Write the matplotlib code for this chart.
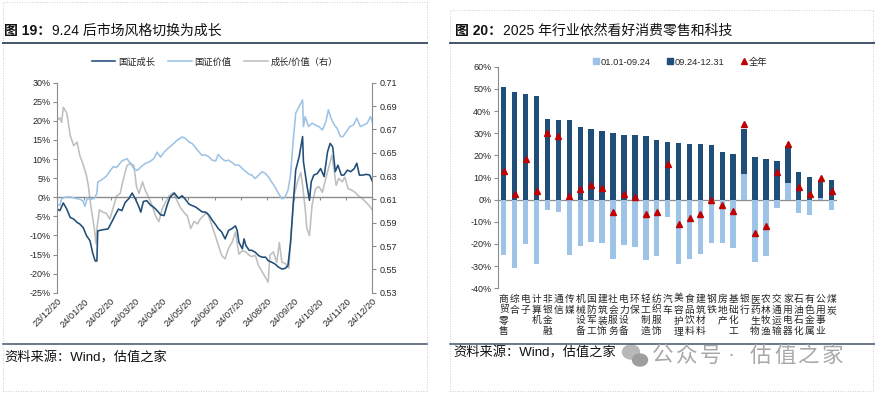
import matplotlib
matplotlib.use("Agg")
import matplotlib.pyplot as plt
import matplotlib.dates as mdates
from matplotlib.lines import Line2D
from matplotlib.patches import Ellipse, Rectangle
from matplotlib.ticker import FuncFormatter, MultipleLocator
import numpy as np
import pandas as pd

plt.rcParams["font.family"] = ["Liberation Sans", "Noto Sans CJK SC"]

# ---- 图19 data ----
growth_dates = [
    "2023-12-20", "2023-12-23", "2023-12-27", "2023-12-31", "2024-01-04", "2024-01-08",
    "2024-01-12", "2024-01-15", "2024-01-19", "2024-01-23", "2024-01-27", "2024-01-30",
    "2024-02-02", "2024-02-04", "2024-02-05", "2024-02-11", "2024-02-17", "2024-02-21",
    "2024-02-25", "2024-02-29", "2024-03-04", "2024-03-08", "2024-03-12", "2024-03-16",
    "2024-03-20", "2024-03-24", "2024-03-26", "2024-03-29", "2024-04-02", "2024-04-06",
    "2024-04-10", "2024-04-14", "2024-04-18", "2024-04-22", "2024-04-26", "2024-04-29",
    "2024-05-04", "2024-05-09", "2024-05-13", "2024-05-17", "2024-05-21", "2024-05-25",
    "2024-05-29", "2024-06-01", "2024-06-05", "2024-06-09", "2024-06-13", "2024-06-17",
    "2024-06-21", "2024-06-24", "2024-06-28", "2024-07-02", "2024-07-06", "2024-07-10",
    "2024-07-14", "2024-07-16", "2024-07-18", "2024-07-22", "2024-07-24", "2024-07-26",
    "2024-07-30", "2024-08-02", "2024-08-06", "2024-08-10", "2024-08-14", "2024-08-18",
    "2024-08-21", "2024-08-25", "2024-08-29", "2024-09-02", "2024-09-06", "2024-09-10",
    "2024-09-13", "2024-09-16", "2024-09-19", "2024-09-22", "2024-09-26", "2024-09-30",
    "2024-10-01", "2024-10-05", "2024-10-08", "2024-10-10", "2024-10-13", "2024-10-17",
    "2024-10-21", "2024-10-25", "2024-10-29", "2024-11-01", "2024-11-04", "2024-11-07",
    "2024-11-10", "2024-11-14", "2024-11-17", "2024-11-21", "2024-11-25", "2024-11-29",
    "2024-12-02", "2024-12-05", "2024-12-09", "2024-12-13", "2024-12-17", "2024-12-20",
]
growth_vals = [
    -3.1, -3.5, -1.5, -3.1, -5.3, -5.7,
    -6.6, -7.0, -7.9, -10.1, -11.4, -14.5,
    -16.7, -16.7, -8.8, -8.5, -8.3, -6.6,
    -4.8, -3.1, -3.5, -1.3, -0.4, 1.1,
    -0.6, -2.6, -3.9, -1.1, -0.9, -2.0,
    -2.6, -3.5, -4.6, -4.8, -1.8, 0.0,
    1.1, -0.3, 0.4, -0.6, -1.8, -2.2,
    -2.6, -3.1, -3.8, -3.9, -4.6, -6.0,
    -7.2, -8.2, -9.1, -10.9, -8.7, -8.2,
    -7.5, -8.7, -11.8, -13.5, -10.9, -12.6,
    -13.9, -13.9, -14.4, -15.3, -15.7, -15.7,
    -16.6, -17.0, -17.5, -18.3, -18.8, -18.6,
    -17.9, -11.8, -2.1, 7.1, 10.6, 15.9,
    9.3, 3.2, -0.8, 4.0, 5.8, 6.2,
    7.5, 5.4, 11.9, 14.1, 13.2, 6.7,
    8.4, 5.8, 5.8, 7.1, 6.7, 7.5,
    8.9, 5.8, 5.8, 6.0, 5.8, 4.2,
]

value_dates = [
    "2023-12-20", "2023-12-23", "2023-12-25", "2023-12-29", "2024-01-04", "2024-01-10",
    "2024-01-15", "2024-01-19", "2024-01-21", "2024-01-24", "2024-01-27", "2024-02-01",
    "2024-02-04", "2024-02-05", "2024-02-09", "2024-02-15", "2024-02-19", "2024-02-23",
    "2024-02-27", "2024-03-04", "2024-03-10", "2024-03-14", "2024-03-18", "2024-03-22",
    "2024-03-26", "2024-03-31", "2024-04-06", "2024-04-10", "2024-04-14", "2024-04-18",
    "2024-04-22", "2024-04-26", "2024-05-01", "2024-05-07", "2024-05-13", "2024-05-17",
    "2024-05-21", "2024-05-25", "2024-05-31", "2024-06-05", "2024-06-09", "2024-06-13",
    "2024-06-17", "2024-06-21", "2024-06-24", "2024-06-28", "2024-07-02", "2024-07-06",
    "2024-07-10", "2024-07-14", "2024-07-18", "2024-07-22", "2024-07-26", "2024-07-30",
    "2024-08-02", "2024-08-06", "2024-08-10", "2024-08-14", "2024-08-18", "2024-08-21",
    "2024-08-25", "2024-08-29", "2024-09-02", "2024-09-06", "2024-09-09", "2024-09-13",
    "2024-09-16", "2024-09-19", "2024-09-22", "2024-09-26", "2024-09-30", "2024-10-01",
    "2024-10-03", "2024-10-07", "2024-10-11", "2024-10-15", "2024-10-19", "2024-10-23",
    "2024-10-27", "2024-10-30", "2024-11-02", "2024-11-06", "2024-11-09", "2024-11-13",
    "2024-11-16", "2024-11-20", "2024-11-24", "2024-11-28", "2024-12-02", "2024-12-06",
    "2024-12-10", "2024-12-14", "2024-12-18", "2024-12-20",
]
value_vals = [
    -1.8, -2.2, -0.4, 0.0, 0.1, -0.3,
    -0.5, -1.0, -2.4, -0.2, -0.6, -0.3,
    1.0, 4.0, 4.5, 5.5, 6.8, 8.0,
    7.8, 9.5, 10.1, 8.8, 7.5, 7.0,
    7.9, 8.8, 9.4, 10.1, 11.8, 10.5,
    11.8, 12.7, 13.6, 14.9, 15.8, 15.4,
    14.5, 14.0, 12.3, 11.0, 11.1, 10.6,
    9.7, 9.5, 11.2, 10.2, 9.5, 9.7,
    9.1, 8.4, 8.4, 7.5, 6.7, 6.0,
    5.8, 4.9, 5.8, 6.7, 6.2, 5.4,
    4.0, 2.7, 1.0, -0.4, -0.2, 1.8,
    5.8, 14.6, 22.0, 23.8, 25.5, 18.5,
    21.1, 18.5, 19.4, 18.9, 18.5, 17.6,
    19.8, 22.9, 20.7, 18.9, 18.1, 15.9,
    15.9, 17.2, 18.5, 18.9, 20.7, 18.5,
    18.9, 19.4, 21.1, 19.8,
]

ratio_dates = [
    "2023-12-20", "2023-12-23", "2023-12-25", "2023-12-27", "2023-12-31", "2024-01-04",
    "2024-01-08", "2024-01-12", "2024-01-15", "2024-01-19", "2024-01-23", "2024-01-25",
    "2024-01-28", "2024-02-01", "2024-02-03", "2024-02-04", "2024-02-07", "2024-02-11",
    "2024-02-15", "2024-02-19", "2024-02-23", "2024-02-27", "2024-03-02", "2024-03-06",
    "2024-03-10", "2024-03-14", "2024-03-18", "2024-03-21", "2024-03-24", "2024-03-28",
    "2024-03-31", "2024-04-04", "2024-04-08", "2024-04-12", "2024-04-16", "2024-04-20",
    "2024-04-24", "2024-04-28", "2024-05-03", "2024-05-07", "2024-05-11", "2024-05-15",
    "2024-05-19", "2024-05-23", "2024-05-27", "2024-05-31", "2024-06-03", "2024-06-07",
    "2024-06-11", "2024-06-15", "2024-06-21", "2024-06-24", "2024-06-28", "2024-07-02",
    "2024-07-06", "2024-07-10", "2024-07-14", "2024-07-18", "2024-07-22", "2024-07-26",
    "2024-07-30", "2024-08-02", "2024-08-06", "2024-08-10", "2024-08-14", "2024-08-18",
    "2024-08-21", "2024-08-23", "2024-08-27", "2024-08-31", "2024-09-03", "2024-09-06",
    "2024-09-10", "2024-09-14", "2024-09-17", "2024-09-20", "2024-09-24", "2024-09-28",
    "2024-09-30", "2024-10-03", "2024-10-05", "2024-10-08", "2024-10-11", "2024-10-15",
    "2024-10-19", "2024-10-23", "2024-10-27", "2024-10-31", "2024-11-03", "2024-11-06",
    "2024-11-08", "2024-11-11", "2024-11-15", "2024-11-18", "2024-11-22", "2024-11-26",
    "2024-11-30", "2024-12-04", "2024-12-08", "2024-12-12", "2024-12-16", "2024-12-20",
]
ratio_vals = [
    0.678, 0.680, 0.676, 0.689, 0.684, 0.665,
    0.656, 0.659, 0.648, 0.640, 0.630, 0.622,
    0.604, 0.585, 0.572, 0.585, 0.601, 0.599,
    0.598, 0.593, 0.603, 0.613, 0.615, 0.628,
    0.639, 0.641, 0.639, 0.621, 0.615, 0.625,
    0.618, 0.612, 0.605, 0.596, 0.591, 0.602,
    0.608, 0.613, 0.616, 0.609, 0.603, 0.599,
    0.596, 0.585, 0.591, 0.589, 0.593, 0.596,
    0.599, 0.591, 0.578, 0.571, 0.562, 0.559,
    0.568, 0.573, 0.582, 0.563, 0.566, 0.565,
    0.562, 0.561, 0.562, 0.553, 0.548, 0.543,
    0.539, 0.562, 0.565, 0.556, 0.573, 0.556,
    0.555, 0.551, 0.582, 0.613, 0.625, 0.633,
    0.622, 0.602, 0.585, 0.579, 0.605, 0.619,
    0.621, 0.616, 0.628, 0.639, 0.648, 0.633,
    0.622, 0.628, 0.625, 0.629, 0.619, 0.618,
    0.616, 0.613, 0.611, 0.608, 0.605, 0.601,
]

# ---- 图20 data ----
industries = ["商贸零售", "综合", "电子", "计算机", "非银金融", "通信", "传媒", "机械设备",
              "国防军工", "建筑装饰", "社会服务", "电力设备", "环保", "轻工制造", "纺织服饰",
              "汽车", "美容护理", "食品饮料", "建筑材料", "钢铁", "房地产", "基础化工", "银行",
              "医药生物", "农林牧渔", "交通运输", "家用电器", "石油石化", "有色金属",
              "公用事业", "煤炭"]
pre_924 = [-24.8, -30.7, -19.8, -29.1, -4.8, -5.5, -25.0, -21.0, -19.0, -19.5, -27.0,
           -20.4, -21.3, -27.3, -25.4, -7.7, -28.9, -26.6, -24.6, -19.5, -19.5, -21.6,
           11.5, -28.1, -25.5, -3.6, 7.5, -5.9, -6.8, 0.7, -4.5]
post_924 = [51.0, 48.4, 47.8, 46.8, 36.3, 36.0, 36.0, 33.0, 32.0, 30.8, 30.2,
            29.4, 29.0, 28.8, 26.8, 25.8, 25.5, 25.0, 24.9, 24.6, 21.4, 20.7,
            20.3, 19.2, 18.4, 17.3, 16.5, 12.4, 10.4, 8.3, 9.0]
full_year = [13.0, 2.6, 18.2, 3.9, 30.0, 28.6, 1.7, 4.7, 6.5, 5.3, -5.6,
             2.7, 1.4, -6.3, -5.6, 15.9, -10.8, -8.1, -6.3, -0.3, -2.6, -5.1,
             34.2, -14.9, -12.0, 12.6, 25.2, 5.8, 2.7, 10.0, 3.9]

DARK = "#1F4E79"
LIGHT = "#9DC3E6"
GREY = "#BFBFBF"
RED = "#C00000"
RULE = "#44546A"
AXIS = "#8C8C8C"
TXT = "#262626"

W, H = 875, 393
fig = plt.figure(figsize=(W / 100, H / 100), dpi=100)


def fx(px):
    return px / W


def fy(py):
    return 1 - py / H


# frames, rules, titles, sources
for x0, y0, x1, y1 in [(3, 2, 427, 391), (450, 10, 873, 391)]:
    fig.add_artist(Rectangle((fx(x0), fy(y1)), fx(x1 - x0), (y1 - y0) / H, fill=False,
                             ec="#BDBDBD", lw=0.6, ls=(0, (1, 2)), transform=fig.transFigure))
for x0, x1 in [(3, 427), (450, 875)]:
    fig.add_artist(Line2D([fx(x0), fx(x1)], [fy(42.7)] * 2, color=RULE, lw=1.4))
    fig.add_artist(Line2D([fx(x0), fx(x1)], [fy(344)] * 2, color=RULE, lw=1.1))

fig.text(fx(4), fy(31), "图 19：", fontsize=10, fontweight="bold", va="center", color="#111111")
fig.text(fx(52), fy(31), "9.24 后市场风格切换为成长", fontsize=10, va="center", color="#111111")
fig.text(fx(455), fy(31), "图 20：", fontsize=10, fontweight="bold", va="center", color="#111111")
fig.text(fx(503), fy(31), "2025 年行业依然看好消费零售和科技", fontsize=10, va="center", color="#111111")
fig.text(fx(4), fy(358), "资料来源：Wind，估值之家", fontsize=9.5, va="center", color="#111111")
fig.text(fx(453), fy(353), "资料来源：Wind，估值之家", fontsize=9.5, va="center", color="#111111")

# ---- left chart ----
ax = fig.add_axes([fx(57.3), fy(292.7), fx(315), 210 / H])
ax2 = ax.twinx()
ax.set_zorder(ax2.get_zorder() + 1)
ax.patch.set_visible(False)

g_dates = pd.to_datetime(growth_dates)
v_dates = pd.to_datetime(value_dates)
r_dates = pd.to_datetime(ratio_dates)
l1, = ax.plot(g_dates, growth_vals, color=DARK, lw=1.15, label="国证成长")
l2, = ax.plot(v_dates, value_vals, color=LIGHT, lw=1.15, label="国证价值")
l3, = ax2.plot(r_dates, ratio_vals, color=GREY, lw=1.15, label="成长/价值（右）")

ax.set_xlim(pd.Timestamp("2023-12-20"), pd.Timestamp("2024-12-20"))
ax.set_ylim(-25, 30)
ax.yaxis.set_major_locator(MultipleLocator(5))
ax.yaxis.set_major_formatter(FuncFormatter(lambda v, p: f"{v:.0f}%"))
ax2.set_ylim(0.53, 0.71)
ax2.set_yticks(np.arange(0.53, 0.7101, 0.02))
ax2.yaxis.set_major_formatter(FuncFormatter(lambda v, p: f"{v:.2f}"))

months = mdates.MonthLocator(bymonthday=20)
for a in (ax, ax2):
    for s in ("top", "bottom"):
        a.spines[s].set_visible(False)
ax.spines["right"].set_visible(False)
ax.spines["left"].set_color(AXIS)
ax2.spines["left"].set_visible(False)
ax2.spines["right"].set_color(AXIS)
ax.tick_params(axis="y", length=3, color=AXIS, labelsize=6.5, labelcolor=TXT, pad=2)
ax2.tick_params(axis="y", length=3, color=AXIS, labelsize=6.5, labelcolor=TXT, pad=2)
ax.xaxis.set_major_locator(months)
ax.xaxis.set_major_formatter(mdates.DateFormatter("%y/%m/%d"))
ax.tick_params(axis="x", length=0, labelsize=6.7, labelcolor=TXT, pad=3)
for lab in ax.get_xticklabels():
    lab.set_rotation(45)
    lab.set_ha("right")
    lab.set_rotation_mode("anchor")

zero_axis = ax.secondary_xaxis(25 / 55)
zero_axis.xaxis.set_major_locator(months)
zero_axis.tick_params(axis="x", length=2.5, color=AXIS, labelbottom=False, direction="out")
zero_axis.spines["bottom"].set_color(AXIS)
zero_axis.spines["bottom"].set_linewidth(1.0)

fig.legend(handles=[l1, l2, l3], loc="center", bbox_to_anchor=(fx(215), fy(62)), ncol=3,
           frameon=False, fontsize=6.7, handlelength=2.5, handletextpad=0.3,
           columnspacing=1.4, labelcolor=TXT)

# ---- right chart ----
bx = fig.add_axes([fx(498.3), fy(288.3), fx(338.7), 221.6 / H])
xs = np.arange(len(industries))
pre = np.array(pre_924)
bx.bar(xs, pre, width=0.5, color=LIGHT, label="01.01-09.24", zorder=2)
bx.bar(xs, post_924, width=0.5, bottom=np.maximum(pre, 0), color=DARK,
       label="09.24-12.31", zorder=2)
bx.plot(xs, full_year, ls="", marker="^", ms=5, color=RED, zorder=3, label="全年")
bx.axhline(0, color=AXIS, lw=0.9, zorder=1)

bx.set_xlim(-0.5, len(industries) - 0.5)
bx.set_ylim(-40, 60)
bx.yaxis.set_major_locator(MultipleLocator(10))
bx.yaxis.set_major_formatter(FuncFormatter(lambda v, p: f"{v:.0f}%"))
for s in ("top", "right", "bottom"):
    bx.spines[s].set_visible(False)
bx.spines["left"].set_color(AXIS)
bx.tick_params(axis="y", length=3, color=AXIS, labelsize=6.5, labelcolor=TXT, pad=2)
bx.set_xticks(xs)
bx.set_xticklabels(["\n".join(n) for n in industries], fontsize=7, color=TXT,
                   linespacing=1.1, va="top")
bx.tick_params(axis="x", length=0, pad=4)

leg_handles = [
    Line2D([], [], ls="", marker="s", ms=4, color=LIGHT),
    Line2D([], [], ls="", marker="s", ms=4, color=DARK),
    Line2D([], [], ls="", marker="^", ms=4.5, color=RED),
]
fig.legend(leg_handles, ["01.01-09.24", "09.24-12.31", "全年"], loc="center",
           bbox_to_anchor=(fx(680), fy(62)), ncol=3, frameon=False, fontsize=6.7,
           handlelength=0.6, handletextpad=0.2, columnspacing=1.8, labelcolor=TXT)

# watermark
wm = "#A8A8A8"
fig.add_artist(Ellipse((fx(631), fy(352)), fx(17), 14 / H, color="#B8B8B8",
                       transform=fig.transFigure))
fig.add_artist(Ellipse((fx(640), fy(360)), fx(15), 12 / H, color="#9E9E9E",
                       transform=fig.transFigure))
for ch, px in zip("公众号·估值之家", [652, 676, 700, 727, 750, 774, 798, 822]):
    fig.text(fx(px), fy(356), ch, fontsize=15.5, va="center", color=wm)

fig.savefig("out.png", dpi=100)
